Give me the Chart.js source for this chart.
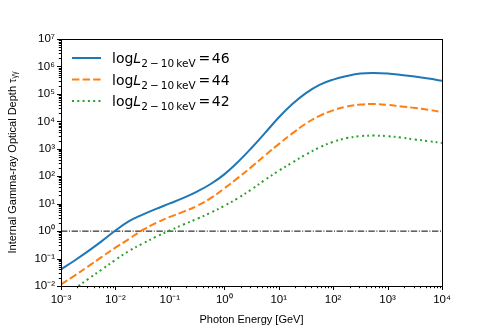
<!DOCTYPE html>
<html>
<head>
<meta charset="utf-8">
<script src="https://cdn.jsdelivr.net/npm/chart.js@4.4.0/dist/chart.umd.min.js"></script>
<style>
  html, body { margin: 0; padding: 0; background: #fff; }
</style>
</head>
<body>
<canvas id="tauChart" width="491" height="327"></canvas>
<script>
// photon energy grid [GeV]
const energyGeV = [0.001, 0.00178, 0.00316, 0.00562, 0.01, 0.0178, 0.0316, 0.0562, 0.1, 0.178, 0.316, 0.562,
                   1, 1.78, 3.16, 5.62, 10, 17.8, 31.6, 56.2, 100, 178, 316, 562, 1000, 1780, 3160, 5620, 10000];

// optical depth, one array per luminosity
const tauL46 = [0.040, 0.085, 0.186, 0.43, 1.05, 2.3, 4.0, 6.5, 10.2, 16.2, 27.5, 52,
                117, 331, 1070, 3800, 13800, 42700, 107000, 214000, 331000, 447000, 550000, 575000,
                550000, 490000, 427000, 363000, 302000];
const tauL44 = [0.0115, 0.024, 0.052, 0.115, 0.25, 0.52, 1.10, 2.0, 3.3, 5.1, 8.3, 15.8,
                36, 87, 219, 575, 1480, 3630, 8320, 15800, 25100, 34700, 40700, 42700,
                39800, 34700, 30900, 26300, 21900];
const tauL42 = [0.0035, 0.0079, 0.018, 0.040, 0.089, 0.19, 0.35, 0.63, 1.05, 1.74, 2.8, 4.7,
                8.3, 15.8, 33, 74, 158, 316, 617, 1120, 1780, 2450, 2880, 3020,
                2880, 2570, 2190, 1910, 1620];

const seriesLogL = ['46', '44', '42'];

// tau = 1 reference line
const unityEnergy = [0.001, 10000];
const unityTau = [1, 1];

const xTicks = [1e-3, 1e-2, 1e-1, 1e0, 1e1, 1e2, 1e3, 1e4];
const xTickLabels = ['10⁻³', '10⁻²', '10⁻¹', '10⁰', '10¹', '10²', '10³', '10⁴'];
const yTicks = [1e-2, 1e-1, 1e0, 1e1, 1e2, 1e3, 1e4, 1e5, 1e6, 1e7];
const yTickLabels = ['10⁻²', '10⁻¹', '10⁰', '10¹', '10²', '10³', '10⁴', '10⁵', '10⁶', '10⁷'];

const toPoints = (xs, ys) => xs.map((x, i) => ({ x: x, y: ys[i] }));

// box + major/minor tick marks, matplotlib style (outward)
const frameTicks = {
    id: 'frameTicks',
    afterDraw(chart) {
        const { ctx, chartArea: a, scales } = chart;
        ctx.save();
        ctx.strokeStyle = '#000';
        ctx.lineWidth = 1;
        ctx.strokeRect(Math.round(a.left) + 0.5, Math.round(a.top) + 0.5,
                       Math.round(a.right - a.left), Math.round(a.bottom - a.top));
        const drawTicks = (scale, ticks, horizontal) => {
            ctx.beginPath();
            ticks.forEach(t => {
                const p = Math.round(scale.getPixelForValue(t.v)) + 0.5;
                if (horizontal) {
                    ctx.moveTo(p, a.bottom); ctx.lineTo(p, a.bottom + t.len);
                } else {
                    ctx.moveTo(a.left, p); ctx.lineTo(a.left - t.len, p);
                }
            });
            ctx.stroke();
        };
        const build = (ticks) => {
            const out = [];
            for (let i = 0; i < ticks.length; i++) {
                out.push({ v: ticks[i], len: 4 });
                if (i < ticks.length - 1) {
                    for (let m = 2; m < 10; m++) out.push({ v: ticks[i] * m, len: 2.2 });
                }
            }
            return out;
        };
        drawTicks(scales.x, build(xTicks), true);
        drawTicks(scales.y, build(yTicks), false);
        ctx.restore();
    }
};

// legend with subscript text (log L_{2-10 keV} = NN)
const mathLegend = {
    id: 'mathLegend',
    afterDraw(chart) {
        const ctx = chart.ctx;
        const rowY0 = 58, rowStep = 21.5;
        ctx.save();
        chart.data.datasets.slice(0, 3).forEach((ds, i) => {
            const y = rowY0 + i * rowStep;
            ctx.strokeStyle = ds.borderColor;
            ctx.lineWidth = ds.borderWidth;
            ctx.setLineDash(ds.borderDash || []);
            ctx.beginPath();
            ctx.moveTo(72, y); ctx.lineTo(101, y);
            ctx.stroke();
            ctx.setLineDash([]);

            ctx.fillStyle = '#000';
            ctx.textBaseline = 'alphabetic';
            let x = 112;
            ctx.font = '14px "DejaVu Sans"';
            ctx.fillText('log', x, y + 5); x += ctx.measureText('log').width;
            ctx.font = 'italic 14px "DejaVu Sans"';
            ctx.fillText('L', x, y + 5); x += ctx.measureText('L').width;
            ctx.font = '10.5px "DejaVu Sans"';
            const sub = '2\u2009−\u200910\u2009keV';
            ctx.fillText(sub, x, y + 9); x += ctx.measureText(sub).width + 3;
            ctx.font = '14px "DejaVu Sans"';
            ctx.fillText('=\u200a' + seriesLogL[i], x, y + 5);
        });
        ctx.restore();
    }
};

const tauChart = new Chart(document.getElementById('tauChart'), {
    type: 'line',
    data: {
        datasets: [
            {
                label: 'log L = ' + seriesLogL[0],
                data: toPoints(energyGeV, tauL46),
                borderColor: '#1f77b4',
                borderWidth: 2,
                tension: 0.4
            },
            {
                label: 'log L = ' + seriesLogL[1],
                data: toPoints(energyGeV, tauL44),
                borderColor: '#ff7f0e',
                borderWidth: 2,
                borderDash: [7.4, 3.2],
                tension: 0.4
            },
            {
                label: 'log L = ' + seriesLogL[2],
                data: toPoints(energyGeV, tauL42),
                borderColor: '#2ca02c',
                borderWidth: 2,
                borderDash: [2, 3.3],
                tension: 0.4
            },
            {
                label: 'tau = 1',
                data: toPoints(unityEnergy, unityTau),
                borderColor: '#000',
                borderWidth: 1,
                borderDash: [6.4, 1.6, 1, 1.6]
            }
        ]
    },
    options: {
        responsive: false,
        animation: false,
        clip: 0,
        elements: { point: { radius: 0 } },
        layout: { padding: { left: 0, right: 49, top: 39, bottom: 0 } },
        plugins: {
            legend: { display: false },
            tooltip: { enabled: false }
        },
        scales: {
            x: {
                type: 'logarithmic',
                min: 1e-3,
                max: 1e4,
                afterBuildTicks: s => { s.ticks = xTicks.map(v => ({ value: v })); },
                afterFit: s => { s.height = 41; },
                grid: { display: false, drawTicks: false },
                border: { display: false },
                ticks: {
                    autoSkip: false,
                    maxRotation: 0,
                    padding: 7,
                    color: '#000',
                    font: { family: '"Liberation Sans"', size: 11.5 },
                    callback: v => xTickLabels[xTicks.indexOf(v)]
                },
                title: {
                    display: true,
                    text: 'Photon Energy [GeV]',
                    color: '#000',
                    font: { family: '"Liberation Sans"', size: 11 },
                    padding: { top: 0, bottom: 0 }
                }
            },
            y: {
                type: 'logarithmic',
                min: 1e-2,
                max: 1e7,
                afterBuildTicks: s => { s.ticks = yTicks.map(v => ({ value: v })); },
                afterFit: s => { s.width = 61; },
                grid: { display: false, drawTicks: false },
                border: { display: false },
                ticks: {
                    autoSkip: false,
                    padding: 6,
                    color: '#000',
                    font: { family: '"Liberation Sans"', size: 11.5 },
                    callback: v => yTickLabels[yTicks.indexOf(v)]
                },
                title: {
                    display: true,
                    text: 'Internal Gamma-ray Optical Depth τᵧᵧ',
                    color: '#000',
                    font: { family: '"Liberation Sans"', size: 11 },
                    padding: { top: 6, bottom: 0 }
                }
            }
        }
    },
    plugins: [frameTicks, mathLegend]
});
</script>
</body>
</html>
